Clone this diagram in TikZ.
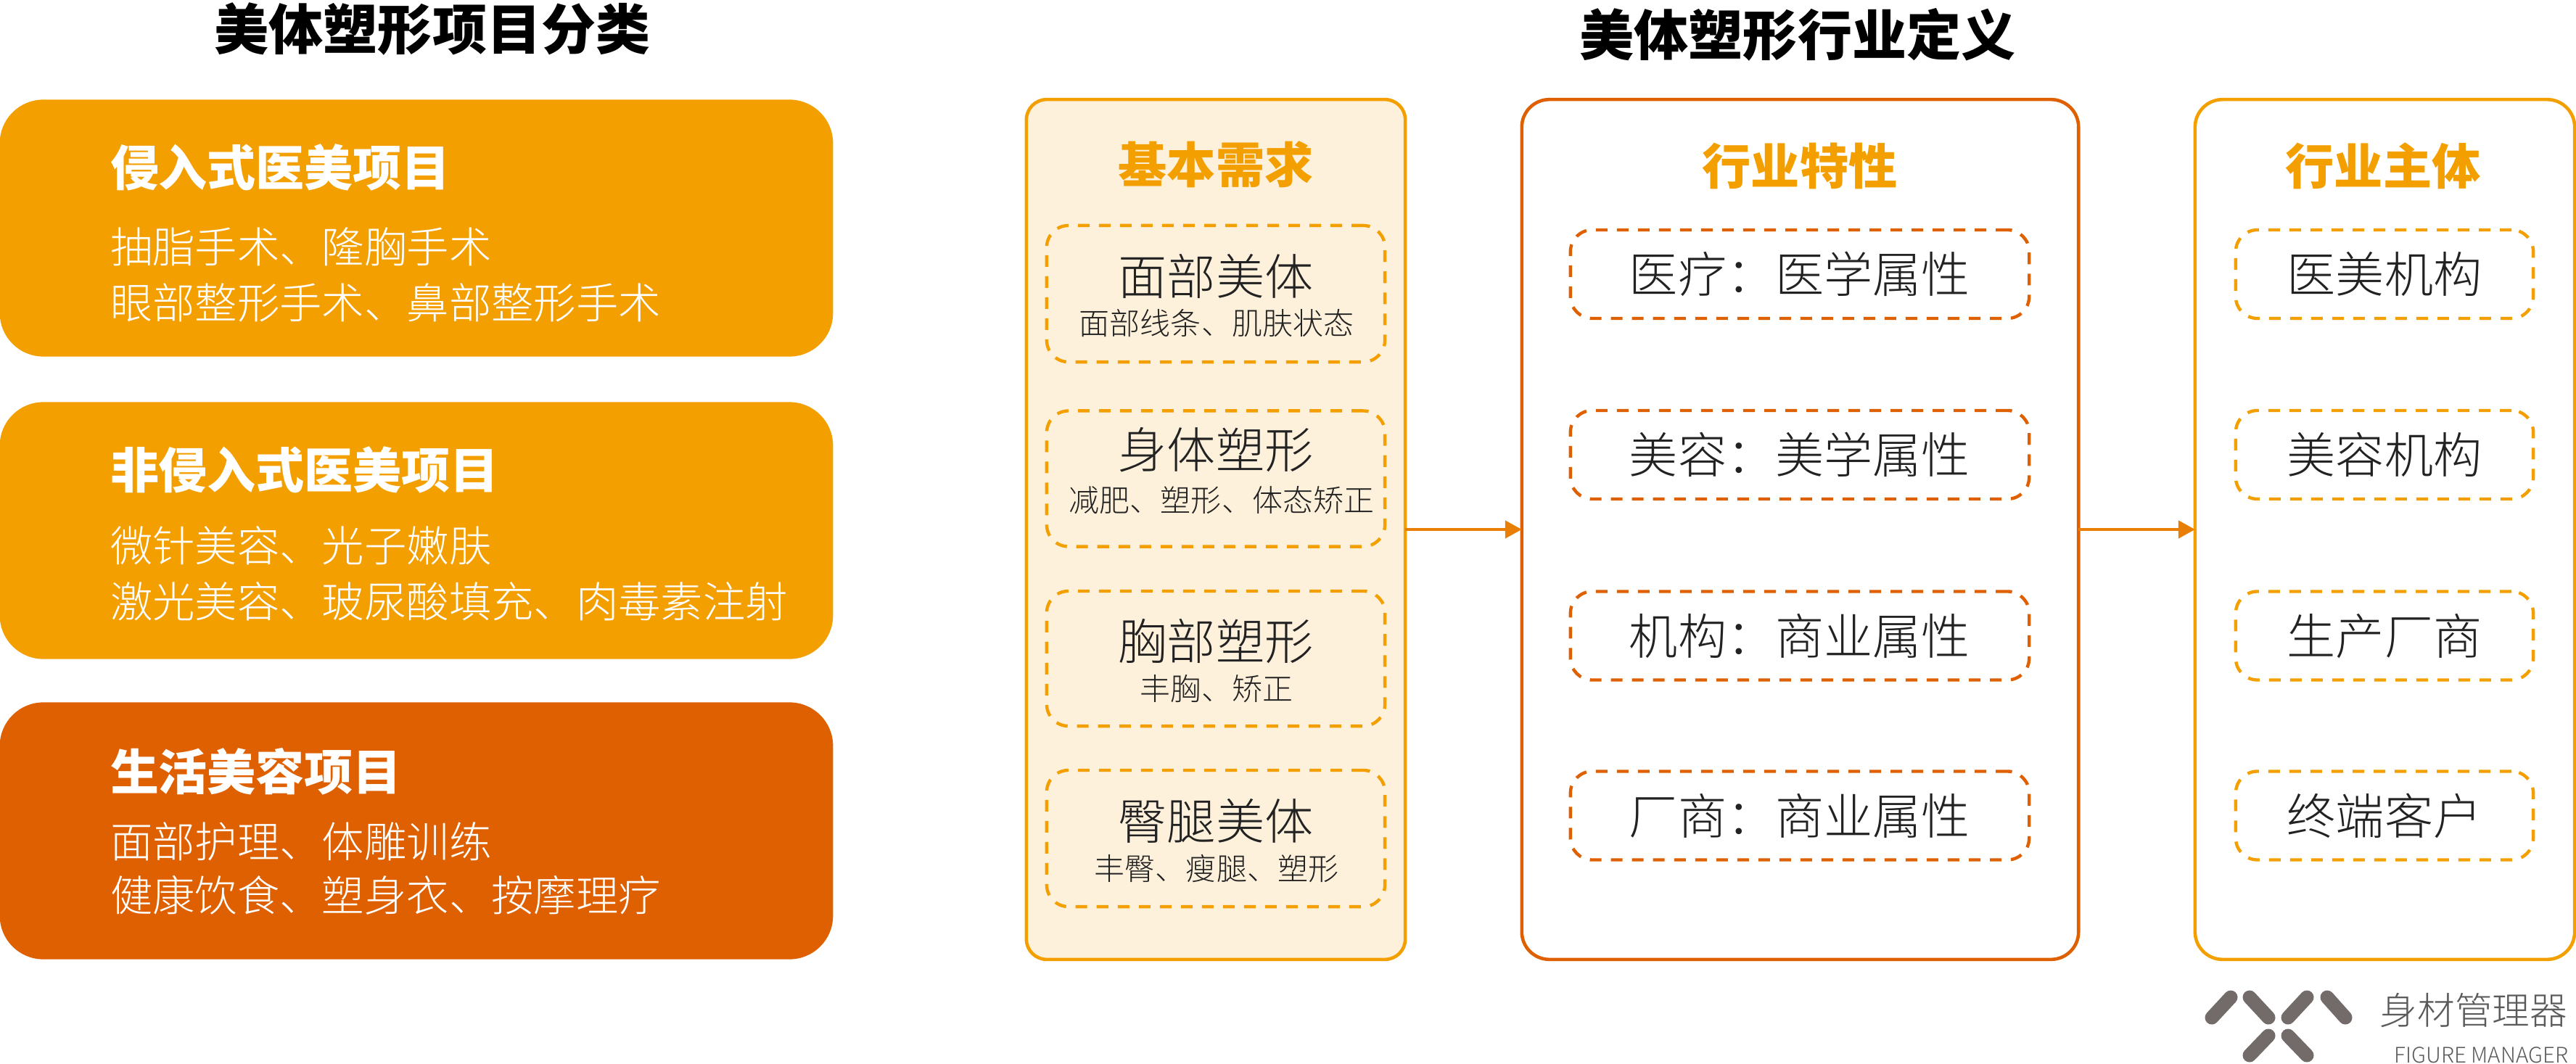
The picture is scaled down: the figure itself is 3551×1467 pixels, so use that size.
\documentclass[tikz,border=0pt]{standalone}
\usepackage{fontspec}
\setmainfont{Noto Sans CJK SC}
\newfontfamily\lightcjk{Noto Sans CJK SC Light}
\usetikzlibrary{arrows.meta}
\definecolor{amber}{HTML}{F49F00}
\definecolor{rust}{HTML}{DF6000}
\definecolor{cream}{HTML}{FEF1DC}
\definecolor{arrowc}{HTML}{E87E04}
\definecolor{ink}{HTML}{222222}
\definecolor{logoc}{HTML}{736B69}
\definecolor{logot}{HTML}{5A5A5A}
\newcommand{\fs}[1]{\fontsize{#1}{#1}\selectfont}
\tikzset{
  x=0.01cm,y=-0.01cm,
  txt/.style={inner sep=0pt,outer sep=0pt,execute at begin node={\rule[-.12em]{0pt}{1em}}},
  pagetitle/.style={txt,font=\fs{21.34pt}\bfseries,text=black},
  cardhead/.style={txt,anchor=west,font=\fs{19.05pt}\bfseries,text=white},
  cardline/.style={txt,anchor=west,font=\fs{16.6pt}\lightcjk,text=white},
  card/.style={draw=none,rounded corners=0.6cm,minimum width=11.48cm,minimum height=3.54cm,inner sep=0pt,outer sep=0pt},
  panel/.style={rectangle,inner sep=0pt,outer sep=0pt,minimum height=11.85cm,line width=1.3pt},
  panelhead/.style={txt,font=\fs{19.1pt}\bfseries},
  dbox/.style={rectangle,dashed,dash pattern=on 0.16cm off 0.13cm,line width=1.25pt,rounded corners=0.3cm,inner sep=0pt,outer sep=0pt},
  mainlabel/.style={txt,font=\fs{19.1pt}\lightcjk,text=ink},
  sublabel/.style={txt,font=\fs{11.95pt}\lightcjk,text=ink},
  flow/.style={draw=arrowc,line width=1.3pt,-{Triangle[length=0.23cm,width=0.24cm]}},
  logobar/.style={draw=logoc,line width=0.19cm,line cap=round},
}
\begin{document}
\begin{tikzpicture}
\useasboundingbox (0,0) rectangle (3551,1467);
% left column
\node[pagetitle] (t1) at (596,40) {美体塑形项目分类};
\node[card,fill=amber] (c1) at (574,314.5) {};
\node[card,fill=amber] (c2) at (574,731.5) {};
\node[card,fill=rust] (c3) at (574,1145.5) {};
\node[cardhead] (c1h) at (152,231) {侵入式医美项目};
\node[cardline] (c1a) at (152,340) {抽脂手术、隆胸手术};
\node[cardline] (c1b) at (152,417) {眼部整形手术、鼻部整形手术};
\node[cardhead] (c2h) at (152,648) {非侵入式医美项目};
\node[cardline] (c2a) at (152,752) {微针美容、光子嫩肤};
\node[cardline] (c2b) at (152,829) {激光美容、玻尿酸填充、肉毒素注射};
\node[cardhead] (c3h) at (152,1064) {生活美容项目};
\node[cardline] (c3a) at (152,1160) {面部护理、体雕训练};
\node[cardline] (c3b) at (152,1234) {健康饮食、塑身衣、按摩理疗};
% right title
\node[pagetitle] (t2) at (2478,48) {美体塑形行业定义};
% panels
\node[panel,draw=amber,fill=cream,rounded corners=0.28cm,minimum width=5.22cm] (need) at (1676,730) {};
\node[panel,draw=rust,fill=white,rounded corners=0.38cm,minimum width=7.67cm] (trait) at (2481.5,730) {};
\node[panel,draw=amber,fill=white,rounded corners=0.38cm,minimum width=5.23cm] (subj) at (3287.5,730) {};
\draw[flow] (need) -- (trait);
\draw[flow] (trait) -- (subj);
% need column
\node[panelhead,text=amber] (nh) at (1676,227) {基本需求};
\foreach \n/\y/\h in {n1/405/1.88,n2/660/1.87,n3/908/1.86,n4/1156/1.88}{
  \node[dbox,draw=amber,minimum width=4.66cm,minimum height=\h cm] (\n) at (1676,\y) {};
}
\node[mainlabel] (n1m) at (1676,381) {面部美体};
\node[sublabel] (n1s) at (1677,446) {面部线条、肌肤状态};
\node[mainlabel] (n2m) at (1676,620) {身体塑形};
\node[sublabel] (n2s) at (1684,690) {减肥、塑形、体态矫正};
\node[mainlabel] (n3m) at (1676,884) {胸部塑形};
\node[sublabel] (n3s) at (1677,950) {丰胸、矫正};
\node[mainlabel] (n4m) at (1676,1132) {臀腿美体};
\node[sublabel] (n4s) at (1677,1198) {丰臀、瘦腿、塑形};
% trait column
\node[panelhead,text=amber] (th) at (2481,229) {行业特性};
\foreach \n/\y/\tx in {d1/378/医疗：医学属性,d2/627/美容：美学属性,d3/876.5/机构：商业属性,d4/1124.5/厂商：商业属性}{
  \node[dbox,draw=rust,minimum width=6.32cm,minimum height=1.22cm] (\n) at (2481,\y) {};
  \node[mainlabel] (\n t) at (2481,\y) {\tx};
}
% subject column
\node[panelhead,text=amber] (sh) at (3285,229) {行业主体};
\foreach \n/\y/\tx in {s1/378/医美机构,s2/627/美容机构,s3/876.5/生产厂商,s4/1124.5/终端客户}{
  \node[dbox,draw=amber,minimum width=4.1cm,minimum height=1.22cm] (\n) at (3287,\y) {};
  \node[mainlabel] (\n t) at (3287,\y) {\tx};
}
% logo
\coordinate (l1a) at (3049,1403); \coordinate (l1b) at (3075,1375);
\coordinate (l2a) at (3101,1375); \coordinate (l2b) at (3127,1403);
\coordinate (l3a) at (3154,1403); \coordinate (l3b) at (3180,1375);
\coordinate (l4a) at (3208,1375); \coordinate (l4b) at (3233,1403);
\coordinate (l5a) at (3101,1455); \coordinate (l5b) at (3127,1428);
\coordinate (l6a) at (3154,1428); \coordinate (l6b) at (3180,1455);
\draw[logobar] (l1a)--(l1b); \draw[logobar] (l2a)--(l2b); \draw[logobar] (l3a)--(l3b);
\draw[logobar] (l4a)--(l4b); \draw[logobar] (l5a)--(l5b); \draw[logobar] (l6a)--(l6b);
\node[txt,font=\fs{14.7pt}\lightcjk,text=logot] (lg1) at (3410,1393) {身材管理器};
\node[txt,anchor=east,font=\fs{8.4pt}\lightcjk,text=logot] (lg2) at (3540,1454) {FIGURE MANAGER};
\end{tikzpicture}
\end{document}
